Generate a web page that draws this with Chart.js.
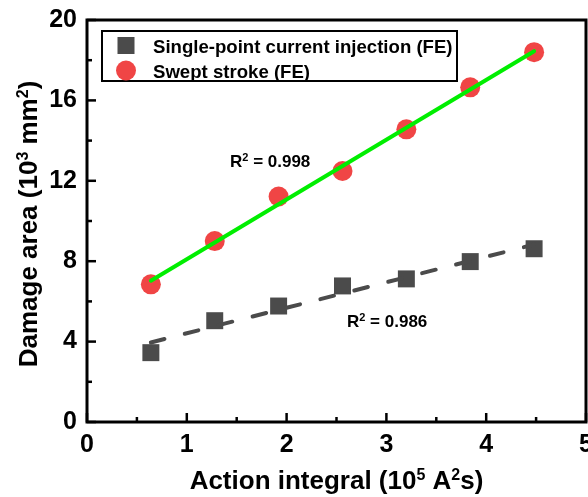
<!DOCTYPE html>
<html><head><meta charset="utf-8">
<style>html,body{margin:0;padding:0;background:#fff;} canvas{display:block;}</style>
<script src="https://cdn.jsdelivr.net/npm/chart.js@4/dist/chart.umd.min.js"></script>
</head><body>
<canvas id="c" width="588" height="497"></canvas>
<script>
const actionIntegral = [0.64, 1.28, 1.92, 2.56, 3.20, 3.84, 4.48];
const singlePointArea = [3.45, 5.04, 5.77, 6.77, 7.12, 7.98, 8.62];
const sweptStrokeArea = [6.85, 9.00, 11.22, 12.49, 14.56, 16.65, 18.40];
const seriesLabels = ['Single-point current injection (FE)', 'Swept stroke (FE)'];
const r2Values = ['0.998', '0.986'];
const r2AnchorX = [1.433, 2.605];
const r2AnchorY = [12.69, 4.73];
const xTicks = [0, 1, 2, 3, 4, 5];
const yTicks = [0, 4, 8, 12, 16, 20];

const FONT = "'Liberation Sans', Arial, sans-serif";
const GRAY = '#4b4b4b', RED = '#f04545', GREEN = '#00ee00';

function fitLine(xs, ys) {
  const n = xs.length;
  const mx = xs.reduce((a, b) => a + b, 0) / n, my = ys.reduce((a, b) => a + b, 0) / n;
  let sxy = 0, sxx = 0;
  for (let i = 0; i < n; i++) { sxy += (xs[i] - mx) * (ys[i] - my); sxx += (xs[i] - mx) ** 2; }
  const b = sxy / sxx, a = my - b * mx;
  const x0 = Math.min(...xs), x1 = Math.max(...xs);
  return [{x: x0, y: a + b * x0}, {x: x1, y: a + b * x1}];
}
const pts = (xs, ys) => xs.map((v, i) => ({x: v, y: ys[i]}));

function richText(ctx, segs, x, y, size, align) {
  const sup = Math.round(size * 0.62);
  let w = 0;
  segs.forEach(s => { ctx.font = 'bold ' + (s.sup ? sup : size) + 'px ' + FONT; w += ctx.measureText(s.t).width; });
  let cx = align === 'center' ? x - w / 2 : x;
  ctx.textAlign = 'left'; ctx.textBaseline = 'alphabetic';
  segs.forEach(s => {
    ctx.font = 'bold ' + (s.sup ? sup : size) + 'px ' + FONT;
    ctx.fillText(s.t, cx, s.sup ? y - size * 0.36 : y);
    cx += ctx.measureText(s.t).width;
  });
}

const decor = {
  id: 'decor',
  afterDatasetsDraw(chart) {
    const {ctx, chartArea: a, scales: {x, y}} = chart;
    ctx.save();
    ctx.strokeStyle = '#000';
    ctx.lineWidth = 2.5;
    const xs = [];
    xTicks.forEach((v, i) => { xs.push([v, 9]); if (i < xTicks.length - 1) xs.push([(v + xTicks[i + 1]) / 2, 5]); });
    xs.forEach(([v, l]) => { const p = x.getPixelForValue(v); ctx.beginPath(); ctx.moveTo(p, a.bottom); ctx.lineTo(p, a.bottom - l); ctx.stroke(); });
    const ys = [];
    yTicks.forEach((v, i) => { ys.push([v, 9]); if (i < yTicks.length - 1) ys.push([(v + yTicks[i + 1]) / 2, 5]); });
    ys.forEach(([v, l]) => { const p = y.getPixelForValue(v); ctx.beginPath(); ctx.moveTo(a.left, p); ctx.lineTo(a.left + l, p); ctx.stroke(); });
    ctx.lineWidth = 3;
    ctx.strokeRect(a.left, a.top, a.right - a.left, a.bottom - a.top);

    // R² annotations
    ctx.fillStyle = '#000';
    r2Values.forEach((v, i) => {
      richText(ctx, [{t: 'R'}, {t: '2', sup: true}, {t: ' = ' + v}], x.getPixelForValue(r2AnchorX[i]), y.getPixelForValue(r2AnchorY[i]), 17, 'left');
    });

    // legend
    const lx = a.left + 15, ly = a.top + 11, lw = 355, lh = 50;
    ctx.fillStyle = '#fff';
    ctx.fillRect(lx, ly, lw, lh);
    ctx.lineWidth = 2;
    ctx.strokeRect(lx, ly, lw, lh);
    const ds = chart.data.datasets;
    [ds[2], ds[3]].forEach((d, i) => {
      const cy = ly + 14.5 + i * 25;
      const cx = lx + 24;
      ctx.fillStyle = d.backgroundColor;
      if (d.pointStyle === 'rect') { ctx.fillRect(cx - 8.5, cy - 8.5, 17, 17); }
      else { ctx.beginPath(); ctx.arc(cx, cy, 10, 0, Math.PI * 2); ctx.fill(); }
      ctx.fillStyle = '#000';
      ctx.font = 'bold 18.6px ' + FONT;
      ctx.textAlign = 'left'; ctx.textBaseline = 'alphabetic';
      ctx.fillText(d.label, lx + 51, cy + 7);
    });
    ctx.restore();
  },
  afterDraw(chart) {
    const {ctx, chartArea: a} = chart;
    ctx.save();
    ctx.fillStyle = '#000';
    richText(ctx, [{t: 'Action integral (10'}, {t: '5', sup: true}, {t: ' A'}, {t: '2', sup: true}, {t: 's)'}], (a.left + a.right) / 2, 489, 26, 'center');
    ctx.translate(37, (a.top + a.bottom) / 2 + 3);
    ctx.rotate(-Math.PI / 2);
    richText(ctx, [{t: 'Damage area (10'}, {t: '3', sup: true}, {t: ' mm'}, {t: '2', sup: true}, {t: ')'}], 0, 0, 26, 'center');
    ctx.restore();
  }
};

new Chart(document.getElementById('c'), {
  type: 'scatter',
  data: {
    datasets: [
      {label: 'fit-single', data: fitLine(actionIntegral, singlePointArea), showLine: true, borderColor: GRAY, borderWidth: 4, borderDash: [14, 21], borderCapStyle: 'round', pointRadius: 0, order: 0},
      {label: 'fit-swept', data: fitLine(actionIntegral, sweptStrokeArea), showLine: true, borderColor: GREEN, borderWidth: 4, borderCapStyle: 'round', pointRadius: 0, order: 0},
      {label: seriesLabels[0], data: pts(actionIntegral, singlePointArea), pointStyle: 'rect', pointRadius: 12, pointHoverRadius: 12, backgroundColor: GRAY, borderColor: GRAY, borderWidth: 0, order: 1},
      {label: seriesLabels[1], data: pts(actionIntegral, sweptStrokeArea), pointStyle: 'circle', pointRadius: 10, pointHoverRadius: 10, backgroundColor: RED, borderColor: RED, borderWidth: 0, order: 1}
    ]
  },
  options: {
    responsive: false,
    devicePixelRatio: 1,
    animation: false,
    events: [],
    layout: {autoPadding: false, padding: {top: 20, right: 2, left: 0, bottom: 0}},
    plugins: {legend: {display: false}, tooltip: {enabled: false}},
    scales: {
      x: {
        type: 'linear', min: 0, max: 5,
        afterBuildTicks: s => { s.ticks = xTicks.map(v => ({value: v})); },
        afterFit: s => { s.height = 75; s.paddingLeft = 0; s.paddingRight = 0; },
        grid: {display: false, drawTicks: false},
        border: {display: false},
        ticks: {padding: 8, color: '#000', font: {family: FONT, size: 25, weight: 'bold'}, maxRotation: 0, autoSkip: false}
      },
      y: {
        type: 'linear', min: 0, max: 20,
        afterBuildTicks: s => { s.ticks = yTicks.map(v => ({value: v})); },
        afterFit: s => { s.width = 87; s.paddingTop = 0; s.paddingBottom = 0; },
        grid: {display: false, drawTicks: false},
        border: {display: false},
        ticks: {padding: 10, color: '#000', font: {family: FONT, size: 25, weight: 'bold'}, autoSkip: false}
      }
    }
  },
  plugins: [decor]
});
</script>
</body></html>
